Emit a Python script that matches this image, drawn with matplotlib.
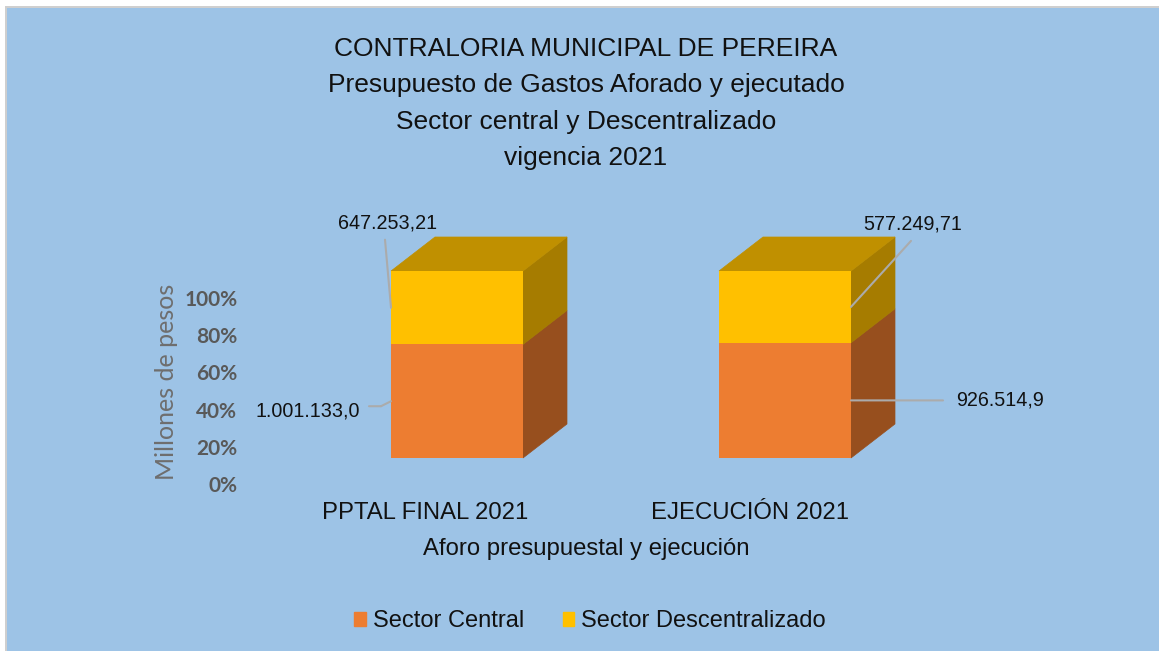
import matplotlib
matplotlib.use("Agg")
import matplotlib.pyplot as plt
from matplotlib.patches import Polygon, Patch, Rectangle
from matplotlib.transforms import ScaledTranslation

# Datos
categorias = ["PPTAL FINAL 2021", "EJECUCIÓN 2021"]
sector_central = [1001133.0, 926514.9]
sector_descentralizado = [647253.21, 577249.71]
etiquetas_central = ["1.001.133,0", "926.514,9"]
etiquetas_descentralizado = ["647.253,21", "577.249,71"]
ticks_y = [0, 20, 40, 60, 80, 100]
etiquetas_y = ["0%", "20%", "40%", "60%", "80%", "100%"]
nombres = ["Sector Central", "Sector Descentralizado"]

W, H = 1159, 651
FONDO = "#9DC3E6"
ARIAL = "Liberation Sans"

fig = plt.figure(figsize=(W / 100, H / 100), dpi=100, facecolor="white")
# Marco gris arriba e izquierda, fondo azul hasta el borde
fig.patches.append(Rectangle((5 / W, 0), (W - 5) / W, 1 - 6 / H, transform=fig.transFigure,
                             facecolor="#CFCFCF", edgecolor="none", zorder=-2))
fig.patches.append(Rectangle((7 / W, 0), (W - 7) / W, 1 - 8 / H, transform=fig.transFigure,
                             facecolor=FONDO, edgecolor="none", zorder=-1))

ax = fig.add_axes([293 / W, 1 - 458 / H, 656 / W, 187 / H])
ax.patch.set_visible(False)
ax.set_xlim(-0.5, 1.5)
ax.set_ylim(0, 100)
for s in ax.spines.values():
    s.set_visible(False)

# Porcentajes apilados
pct_central = [c / (c + d) * 100 for c, d in zip(sector_central, sector_descentralizado)]
pct_descentr = [d / (c + d) * 100 for c, d in zip(sector_central, sector_descentralizado)]

ancho = 0.4024
prof_x = 44 / 328
prof_y = 34 / 187 * 100
xs = list(range(len(categorias)))

ax.bar(xs, pct_central, ancho, color="#ED7D31", zorder=3)
ax.bar(xs, pct_descentr, ancho, bottom=pct_central, color="#FFC000", zorder=3)

# Caras laterales y superior de las cajas
for x, pc, pd_ in zip(xs, pct_central, pct_descentr):
    der = x + ancho / 2
    izq = x - ancho / 2
    for y0, y1, col in [(0, pc, "#974F1E"), (pc, pc + pd_, "#A67C00")]:
        ax.add_patch(Polygon([(der, y0), (der, y1), (der + prof_x, y1 + prof_y), (der + prof_x, y0 + prof_y)],
                             closed=True, facecolor=col, edgecolor=col, linewidth=0.5,
                             clip_on=False, zorder=2))
    top = pc + pd_
    ax.add_patch(Polygon([(izq, top), (der, top), (der + prof_x, top + prof_y), (izq + prof_x, top + prof_y)],
                         closed=True, facecolor="#C09000", edgecolor="#C09000", linewidth=0.5,
                         clip_on=False, zorder=2))

# Ejes: las etiquetas van corridas respecto a las cajas, como en el original
ax.set_yticks(ticks_y)
ax.set_yticklabels(etiquetas_y, fontfamily="Lato", fontweight="bold", fontsize=15, color="#595959")
ax.set_xticks(xs)
ax.set_xticklabels(categorias, fontfamily=ARIAL, fontsize=17.2, color="#111111")
ax.tick_params(axis="both", length=0)
ax.tick_params(axis="y", pad=40)
ax.tick_params(axis="x", pad=32)
for lab in ax.get_yticklabels():
    lab.set_transform(lab.get_transform() + ScaledTranslation(0, -26.5 / 100, fig.dpi_scale_trans))
for lab, dx in zip(ax.get_xticklabels(), [-32, -35]):
    lab.set_transform(lab.get_transform() + ScaledTranslation(dx / 100, 0, fig.dpi_scale_trans))

ax.set_ylabel("Millones de pesos", fontfamily="Lato", fontsize=18, color="#6E6E6E")
ax.yaxis.set_label_coords(-0.176, 0.406)
ax.set_xlabel("Aforo presupuestal y ejecución", fontfamily=ARIAL, fontsize=17.2, color="#111111")
ax.xaxis.set_label_coords(0.447, -0.43)

# Etiquetas de datos con línea guía
GUIA = dict(arrowstyle="-", color="#ABABAB", lw=1.5, shrinkA=0, shrinkB=0)
TXT = dict(textcoords="offset pixels", va="center", fontfamily=ARIAL, fontsize=14.2, color="#111111", zorder=5)

izq0 = xs[0] - ancho / 2
der1 = xs[1] + ancho / 2
y_c0 = pct_central[0] / 2
y_c1 = pct_central[1] / 2
y_d0 = pct_central[0] + pct_descentr[0] / 2
y_d1 = pct_central[1] + pct_descentr[1] / 2

ax.annotate(etiquetas_central[0], xy=(izq0, y_c0), xytext=(-31, -10), ha="right", **TXT)
ax.annotate("", xy=(izq0, y_c0), xytext=(-10, -5), textcoords="offset pixels", arrowprops=GUIA, zorder=5)
ax.annotate("", xy=(izq0 - 10 / 328, y_c0 - 5 / 1.87), xytext=(-12, 0), textcoords="offset pixels",
            arrowprops=GUIA, zorder=5)
ax.annotate(etiquetas_central[1], xy=(der1, y_c1), xytext=(105, 0), ha="left", **TXT)
ax.annotate("", xy=(der1, y_c1), xytext=(92, 0), textcoords="offset pixels", arrowprops=GUIA, zorder=5)

ax.annotate(etiquetas_descentralizado[0], xy=(izq0, y_d0), xytext=(-3, 85), ha="center", **TXT)
ax.annotate("", xy=(izq0, y_d0), xytext=(-6, 68), textcoords="offset pixels", arrowprops=GUIA, zorder=5)
ax.annotate(etiquetas_descentralizado[1], xy=(der1, y_d1), xytext=(62, 83), ha="center", **TXT)
ax.annotate("", xy=(der1, y_d1), xytext=(60, 66), textcoords="offset pixels", arrowprops=GUIA, zorder=5)

# Título
fig.suptitle("CONTRALORIA MUNICIPAL DE PEREIRA\nPresupuesto de Gastos Aforado y ejecutado\n"
             "Sector central y Descentralizado\nvigencia 2021",
             x=586 / W, y=1 - 37 / H, va="top", ha="center", fontfamily=ARIAL, fontsize=19,
             color="#111111", linespacing=1.65)

# Leyenda
fig.legend(handles=[Patch(color="#ED7D31", label=nombres[0]), Patch(color="#FFC000", label=nombres[1])],
           loc="center", bbox_to_anchor=(590 / W, 1 - 621 / H), ncol=2, frameon=False,
           prop={"family": ARIAL, "size": 17}, labelcolor="#111111",
           handlelength=0.47, handleheight=0.55, handletextpad=0.3, columnspacing=1.65)

fig.savefig("out.png", dpi=100, facecolor=fig.get_facecolor())
